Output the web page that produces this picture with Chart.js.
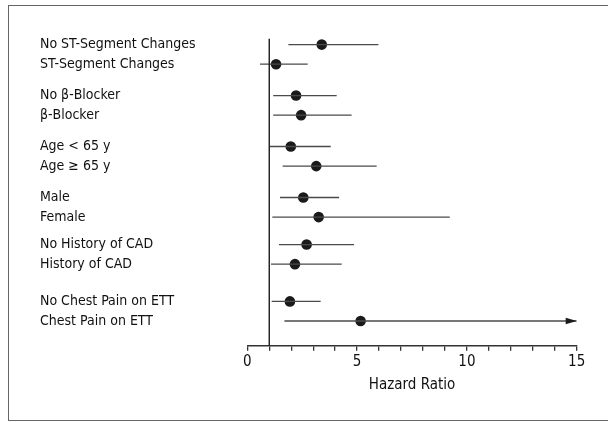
<!DOCTYPE html>
<html>
<head>
<meta charset="utf-8">
<script src="https://cdn.jsdelivr.net/npm/chart.js@4/dist/chart.umd.min.js"></script>
<style>
  html, body { margin: 0; padding: 0; background: #fff; }
  #wrap { position: relative; width: 608px; height: 422px; overflow: hidden; }
  #frame { position: absolute; left: 8px; top: 5px; width: 620px; height: 416px; border: 1.5px solid #666; box-sizing: border-box; pointer-events: none; }
  canvas { position: absolute; left: 0; top: 0; }
</style>
</head>
<body>
<div id="wrap">
  <canvas id="myChart" width="608" height="422"></canvas>
  <div id="frame"></div>
</div>
<script>
const fontFamily = '"Liberation Sans Narrow", "DejaVu Sans Condensed", "Arial Narrow", sans-serif';
const lineColor = '#4a4a4a';
const dotColor = '#1a1a1a';

// subgroup labels, listed top to bottom (pairs)
const labels = [
  'No ST-Segment Changes', 'ST-Segment Changes',
  'No \u03B2-Blocker', '\u03B2-Blocker',
  'Age < 65 y', 'Age \u2265 65 y',
  'Male', 'Female',
  'No History of CAD', 'History of CAD',
  'No Chest Pain on ETT', 'Chest Pain on ETT',
];
// hazard ratio and 95% CI
const hazardRatio = [3.39, 1.31, 2.22, 2.45, 1.98, 3.14, 2.55, 3.25, 2.70, 2.17, 1.94, 5.16];
const ciLow = [1.87, 0.58, 1.18, 1.18, 1.03, 1.61, 1.49, 1.14, 1.44, 1.08, 1.11, 1.69];
const ciHigh = [5.97, 2.75, 4.07, 4.75, 3.80, 5.89, 4.18, 9.22, 4.86, 4.30, 3.34, 15];
const xTicks = [0, 5, 10, 15];
const referenceHR = 1;

// extra space before each pair of rows
const groupGap = [0, 0.6, 0.6, 0.6, 0.4, 0.9];
const rowPos = [];
let pos = 0;
for (let i = 0; i < labels.length; i++) {
  if (i > 0) pos += 1;
  if (i % 2 === 0) pos += groupGap[i / 2];
  rowPos.push(pos);
}
const yMin = -0.31;
const yMax = 15.36;

const datasets = [];
// reference line at HR = 1
datasets.push({
  data: [{ x: referenceHR, y: yMin }, { x: referenceHR, y: yMax }],
  showLine: true,
  borderColor: '#1a1a1a',
  borderWidth: 1.4,
  pointRadius: 0,
});
for (let i = 0; i < labels.length; i++) {
  datasets.push({
    data: [{ x: ciLow[i], y: rowPos[i] }, { x: ciHigh[i], y: rowPos[i] }],
    showLine: true,
    borderColor: lineColor,
    borderWidth: 1.3,
    pointRadius: 0,
  });
}
datasets.push({
  data: hazardRatio.map((v, i) => ({ x: v, y: rowPos[i] })),
  showLine: false,
  pointRadius: 5.3,
  pointBackgroundColor: dotColor,
  pointBorderColor: dotColor,
  pointBorderWidth: 0,
});

// arrow head for CIs cut off at the edge of the axis
const arrowPlugin = {
  id: 'arrowHead',
  afterDatasetsDraw(chart) {
    const xs = chart.scales.x;
    const ys = chart.scales.y;
    const c = chart.ctx;
    c.save();
    c.fillStyle = '#1a1a1a';
    for (let i = 0; i < labels.length; i++) {
      if (ciHigh[i] < xs.max) continue;
      const tx = xs.getPixelForValue(ciHigh[i]);
      const ty = ys.getPixelForValue(rowPos[i]);
      c.beginPath();
      c.moveTo(tx, ty);
      c.lineTo(tx - 11, ty - 3.2);
      c.lineTo(tx - 11, ty + 3.2);
      c.closePath();
      c.fill();
    }
    c.restore();
  },
};

var ctx = document.getElementById('myChart');
var forestChart = new Chart(ctx, {
  type: 'scatter',
  data: { datasets: datasets },
  plugins: [arrowPlugin],
  options: {
    responsive: false,
    animation: false,
    layout: { padding: { left: 40, top: 38.5, right: 31.3, bottom: 28 } },
    plugins: { legend: { display: false }, tooltip: { enabled: false } },
    scales: {
      x: {
        type: 'linear',
        min: 0,
        max: 15,
        ticks: {
          stepSize: 1,
          autoSkip: false,
          maxRotation: 0,
          padding: 2,
          color: '#111',
          font: { family: fontFamily, size: 15 },
          callback: (v) => (xTicks.includes(v) ? String(v) : ''),
        },
        grid: { drawOnChartArea: false, tickLength: 5, color: '#333', lineWidth: 1.3 },
        border: { color: '#333', width: 1.5 },
        title: {
          display: true,
          text: 'Hazard Ratio',
          color: '#111',
          padding: 0,
          font: { family: fontFamily, size: 15 },
        },
        afterFit(scale) { scale.height = 48.3; },
      },
      y: {
        type: 'linear',
        reverse: true,
        min: yMin,
        max: yMax,
        afterBuildTicks(scale) {
          scale.ticks = rowPos.map((v) => ({ value: v }));
        },
        ticks: {
          autoSkip: false,
          crossAlign: 'far',
          color: '#111',
          font: { family: fontFamily, size: 14 },
          callback: (v, i) => labels[i],
        },
        grid: { display: false },
        border: { display: false },
        afterFit(scale) { scale.width = 207.3; },
      },
    },
  },
});
</script>
</body>
</html>
